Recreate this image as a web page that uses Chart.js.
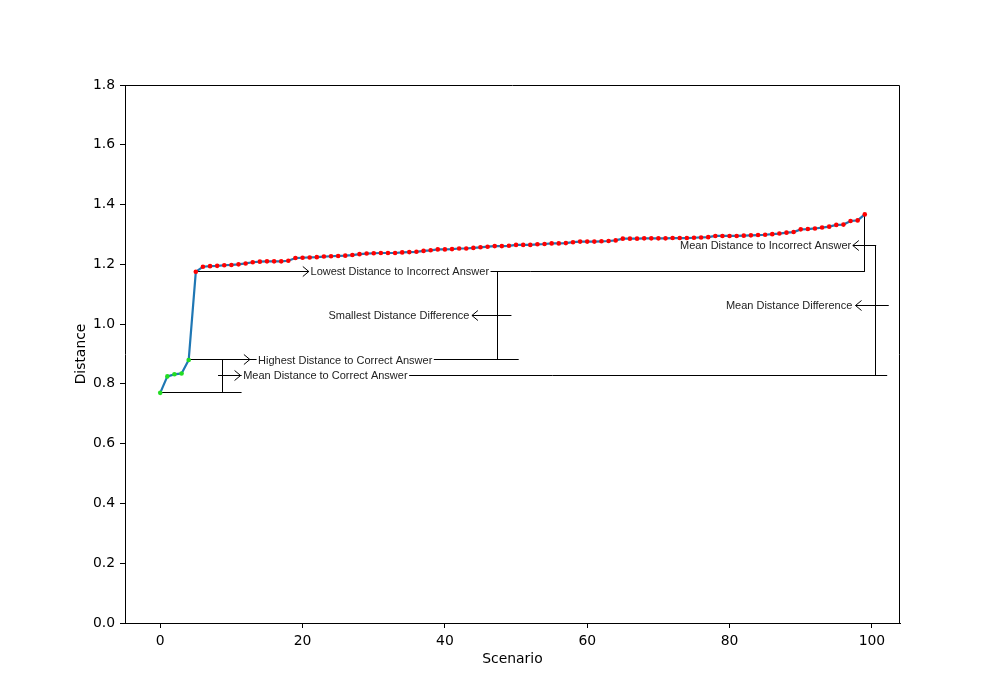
<!DOCTYPE html>
<html>
<head>
<meta charset="utf-8">
<script src="https://cdn.jsdelivr.net/npm/chart.js@4/dist/chart.umd.min.js"></script>
<style>
  html, body { margin: 0; padding: 0; background: #ffffff; }
  canvas { display: block; }
</style>
</head>
<body>
<canvas id="c" width="1000" height="700"></canvas>
<script>
// ---- data ----
const correctDistances = [0.770, 0.825, 0.832, 0.835, 0.880];
const incorrectDistances = [
  1.175, 1.192, 1.194, 1.195, 1.197, 1.198, 1.200, 1.203, 1.207, 1.209,
  1.210, 1.210, 1.210, 1.212, 1.221, 1.222, 1.223, 1.224, 1.226, 1.227,
  1.228, 1.229, 1.231, 1.234, 1.236, 1.237, 1.238, 1.238, 1.238, 1.240,
  1.241, 1.242, 1.245, 1.247, 1.250, 1.250, 1.251, 1.253, 1.253, 1.255,
  1.257, 1.259, 1.261, 1.261, 1.262, 1.265, 1.265, 1.265, 1.267, 1.268,
  1.270, 1.270, 1.271, 1.274, 1.276, 1.276, 1.276, 1.277, 1.278, 1.280,
  1.286, 1.286, 1.286, 1.287, 1.287, 1.287, 1.287, 1.288, 1.288, 1.288,
  1.289, 1.290, 1.291, 1.295, 1.295, 1.295, 1.295, 1.296, 1.297, 1.298,
  1.299, 1.301, 1.303, 1.306, 1.308, 1.317, 1.318, 1.320, 1.323, 1.326,
  1.332, 1.333, 1.345, 1.347, 1.367
];
const xTickValues = [0, 20, 40, 60, 80, 100];
const yTickValues = [0, 0.2, 0.4, 0.6, 0.8, 1.0, 1.2, 1.4, 1.6, 1.8];
const xAxisTitle = 'Scenario';
const yAxisTitle = 'Distance';
const labelHighestCorrect = 'Highest Distance to Correct Answer';
const labelMeanCorrect = 'Mean Distance to Correct Answer';
const labelLowestIncorrect = 'Lowest Distance to Incorrect Answer';
const labelSmallestDiff = 'Smallest Distance Difference';
const labelMeanIncorrect = 'Mean Distance to Incorrect Answer';
const labelMeanDiff = 'Mean Distance Difference';
const meanDiffArrowLevel = 1.063;

// ---- derived ----
const allDistances = correctDistances.concat(incorrectDistances);
const scenarioIndex = allDistances.map((_, i) => i);
const nC = correctDistances.length;
const lastIdx = allDistances.length - 1;
const mean = a => a.reduce((s, v) => s + v, 0) / a.length;
const minC = Math.min(...correctDistances), maxC = Math.max(...correctDistances), meanC = mean(correctDistances);
const minI = Math.min(...incorrectDistances), maxI = Math.max(...incorrectDistances), meanI = mean(incorrectDistances);
const smallestDiffLevel = (minI + maxC) / 2;

// annotation geometry in data coordinates (x in scenario units, y in distance)
const segments = [
  [0, minC, 11.43, minC],
  [8.71, minC, 8.71, maxC],
  [nC - 1, maxC, 50.37, maxC],
  [8.14, meanC, 102.15, meanC],
  [nC, minI, lastIdx, minI],
  [lastIdx, maxI, lastIdx, minI],
  [47.38, minI, 47.38, maxC],
  [100.45, meanI, 100.45, meanC]
];
const arrows = [
  [nC - 1, maxC, 12.6, maxC],
  [8.14, meanC, 11.29, meanC],
  [nC, minI, 20.88, minI],
  [49.35, smallestDiffLevel, 43.8, smallestDiffLevel],
  [100.6, meanI, 97.32, meanI],
  [102.37, meanDiffArrowLevel, 97.7, meanDiffArrowLevel]
];
const texts = [
  [labelHighestCorrect, 13.75, maxC, 'left', true],
  [labelMeanCorrect, 11.65, meanC, 'left', true],
  [labelLowestIncorrect, 21.12, minI, 'left', true],
  [labelSmallestDiff, 43.45, smallestDiffLevel, 'right', false],
  [labelMeanIncorrect, 97.1, meanI, 'right', false],
  [labelMeanDiff, 97.24, meanDiffArrowLevel, 'right', false]
];

const annotationPlugin = {
  id: 'bracketAnnotations',
  beforeDatasetsDraw(chart) {
    const {ctx, scales: {x, y}} = chart;
    const px = v => x.getPixelForValue(v);
    const py = v => y.getPixelForValue(v);
    const snap = p => Math.round(p - 0.5) + 0.5;
    ctx.save();
    ctx.strokeStyle = '#000';
    ctx.lineWidth = 1;
    segments.forEach(s => {
      let x1 = px(s[0]), y1 = py(s[1]), x2 = px(s[2]), y2 = py(s[3]);
      if (Math.abs(y1 - y2) < 0.01) { y1 = y2 = snap(y1); }
      if (Math.abs(x1 - x2) < 0.01) { x1 = x2 = snap(x1); }
      ctx.beginPath(); ctx.moveTo(x1, y1); ctx.lineTo(x2, y2); ctx.stroke();
    });
    ctx.font = '11px "Liberation Sans", Arial, sans-serif';
    ctx.textBaseline = 'middle';
    texts.forEach(t => {
      const [str, xv, yv, align, bg] = t;
      const w = ctx.measureText(str).width;
      const tx = px(xv), ty = py(yv);
      const left = align === 'left' ? tx : tx - w;
      if (bg) {
        ctx.fillStyle = '#ffffff';
        ctx.fillRect(left - 1.5, ty - 4, w + 3, 8);
      }
      ctx.fillStyle = '#222';
      ctx.textAlign = align;
      ctx.fillText(str, tx, ty + 0.5);
    });
    arrows.forEach(a => {
      const x1 = px(a[0]), x2 = px(a[2]);
      const yy = snap(py(a[1]));
      const dir = x2 > x1 ? 1 : -1;
      ctx.beginPath(); ctx.moveTo(x1, yy); ctx.lineTo(x2, yy); ctx.stroke();
      ctx.beginPath();
      ctx.moveTo(x2 - dir * 6, yy - 5);
      ctx.lineTo(x2, yy);
      ctx.lineTo(x2 - dir * 6, yy + 5);
      ctx.stroke();
    });
    ctx.restore();
  },
  afterDraw(chart) {
    const {ctx, chartArea: a} = chart;
    ctx.save();
    ctx.strokeStyle = '#000';
    ctx.lineWidth = 1;
    ctx.beginPath();
    ctx.moveTo(Math.round(a.left) + 0.5, Math.round(a.top) + 0.5);
    ctx.lineTo(Math.round(a.right) - 0.5, Math.round(a.top) + 0.5);
    ctx.lineTo(Math.round(a.right) - 0.5, Math.round(a.bottom));
    ctx.stroke();
    ctx.restore();
  }
};

const axisFont = {family: '"DejaVu Sans", sans-serif', size: 13.9};

new Chart(document.getElementById('c'), {
  type: 'line',
  data: {
    datasets: [
      {
        type: 'scatter',
        data: correctDistances.map((v, i) => ({x: scenarioIndex[i], y: v})),
        backgroundColor: '#22dd22',
        borderWidth: 0,
        pointRadius: 2.3,
        order: 0
      },
      {
        type: 'scatter',
        data: incorrectDistances.map((v, i) => ({x: scenarioIndex[i + nC], y: v})),
        backgroundColor: '#ff0000',
        borderWidth: 0,
        pointRadius: 2.3,
        order: 0
      },
      {
        type: 'line',
        data: allDistances.map((v, i) => ({x: scenarioIndex[i], y: v})),
        borderColor: '#1f77b4',
        borderWidth: 2.2,
        pointRadius: 0,
        tension: 0,
        fill: false,
        order: 1
      }
    ]
  },
  options: {
    responsive: false,
    animation: false,
    events: [],
    layout: {padding: {left: 0, right: 100, top: 85, bottom: 0}},
    plugins: {legend: {display: false}, tooltip: {enabled: false}},
    scales: {
      x: {
        type: 'linear',
        min: -4.95,
        max: 103.95,
        afterBuildTicks: s => { s.ticks = xTickValues.map(v => ({value: v})); },
        afterFit: s => { s.height = 77; },
        ticks: {color: '#000', font: axisFont, padding: 5, maxRotation: 0, callback: v => String(v)},
        grid: {display: true, drawOnChartArea: false, drawTicks: true, tickLength: 5, tickColor: '#000', tickWidth: 1},
        border: {display: true, color: '#000', width: 1},
        title: {display: true, text: xAxisTitle, color: '#000', font: axisFont, padding: {top: 0, bottom: 32}}
      },
      y: {
        type: 'linear',
        min: 0,
        max: 1.8,
        afterBuildTicks: s => { s.ticks = yTickValues.map(v => ({value: v})); },
        afterFit: s => { s.width = 125; },
        ticks: {color: '#000', font: axisFont, padding: 5, callback: v => Number(v).toFixed(1)},
        grid: {display: true, drawOnChartArea: false, drawTicks: true, tickLength: 5, tickColor: '#000', tickWidth: 1},
        border: {display: true, color: '#000', width: 1},
        title: {display: true, text: yAxisTitle, color: '#000', font: axisFont, padding: {top: 73, bottom: 0}}
      }
    }
  },
  plugins: [annotationPlugin]
});
</script>
</body>
</html>
